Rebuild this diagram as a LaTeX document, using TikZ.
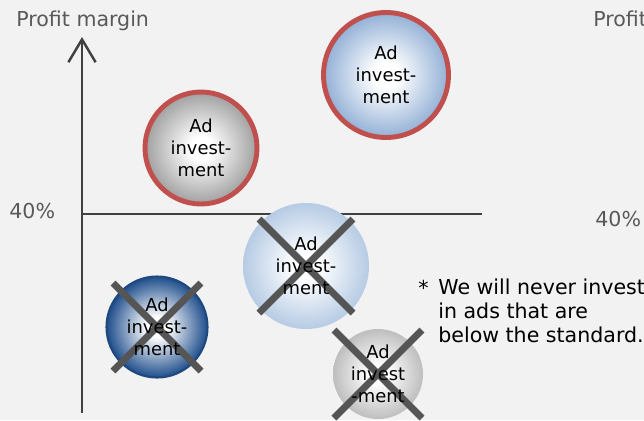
\documentclass[tikz,border=0pt]{standalone}
\usepackage{fontspec}
\setmainfont{DejaVu Sans}
\usetikzlibrary{arrows.meta}
\definecolor{bgpaper}{HTML}{F2F2F2}
\definecolor{axisgray}{HTML}{404040}
\definecolor{labelgray}{HTML}{595959}
\definecolor{ringred}{HTML}{C0504D}
\definecolor{ballgray}{HTML}{A0A0A0}
\definecolor{ballblue}{HTML}{92B0D6}
\definecolor{paleblue}{HTML}{B6CBE4}
\definecolor{navyblue}{HTML}{1F4E8C}
\definecolor{navyring}{HTML}{1F497D}
\definecolor{softgray}{HTML}{BEBEBE}
\definecolor{crossgray}{HTML}{555555}
% wider white centre for the radial fill
\makeatletter
\pgfdeclareradialshading[tikz@radial@inner,tikz@radial@outer]{radial}{\pgfpointorigin}{color(0bp)=(tikz@radial@inner); color(5bp)=(tikz@radial@inner); color(25bp)=(tikz@radial@outer); color(50bp)=(tikz@radial@outer)}
\makeatother
\tikzset{
	ball/.style={circle, inner sep=0pt, inner color=white},
	balltext/.style={align=center, inner sep=0pt, text=black, font=\fontsize{10.2}{12.5}\selectfont},
	axisline/.style={axisgray, line width=1.4pt},
	axistext/.style={labelgray, inner sep=0pt, font=\fontsize{11.7}{14}\selectfont},
	crossline/.style={crossgray, line width=3.9pt}
}

\begin{document}
\begin{tikzpicture}[x=0.02cm, y=-0.02cm]
			\useasboundingbox (0, 0) rectangle (644, 420);
			\clip (0, 0) rectangle (644, 420);
			\fill[bgpaper] (0, 0) rectangle (644, 420);
			% axes
			\coordinate (origin) at (82, 214);
			\coordinate (ytop) at (82, 37);
			\coordinate (ybot) at (82, 413);
			\coordinate (xend) at (482, 214);
			\draw[axisline, -{Straight Barb[length=13pt, width=15.5pt, line width=1.4pt]}] (ybot) -- (ytop);
			\draw[axisline] (origin) -- (xend);
			\node[axistext, anchor=base west] (ylabel) at (16, 26) {Profit margin};
			\node[axistext, anchor=base west] (limit) at (9, 218) {40\%};
			\node[axistext, anchor=base west] (ylabel2) at (593, 26) {Profit margin};
			\node[axistext, anchor=base west] (limit2) at (595, 226) {40\%};
			% circles
			\node[ball, draw=ringred, line width=2.8pt, outer color=ballgray, minimum size=2.24cm] (adgray) at (201, 148) {};
			\node[ball, draw=ringred, line width=2.8pt, outer color=ballblue, minimum size=2.5cm] (adblue) at (386, 75) {};
			\node[ball, outer color=paleblue, minimum size=2.52cm] (adpale) at (306, 266) {};
			\node[ball, draw=navyring, line width=1.2pt, outer color=navyblue, minimum size=2.02cm] (adnavy) at (157, 327) {};
			\node[ball, outer color=softgray, minimum size=1.8cm] (adlight) at (378, 374) {};
			% crosses
			\foreach \n/\d in {adpale/47, adnavy/44, adlight/44} {
				\draw[crossline] ([shift={(-\d, -\d)}]\n.center) -- ([shift={(\d, \d)}]\n.center);
				\draw[crossline] ([shift={(\d, -\d)}]\n.center) -- ([shift={(-\d, \d)}]\n.center);
			}
			% texts
			\foreach \n in {adgray, adblue, adpale, adnavy}
			\node[balltext] (\n-t) at (\n) {Ad\\invest-\\ment};
			\node[balltext] (adlight-t) at (adlight) {Ad\\invest\\-ment};
			\node[balltext, font=\fontsize{11.7}{13.6}\selectfont, anchor=base west] (star) at (418, 295) {*};
			\node[balltext, font=\fontsize{11.7}{13.6}\selectfont, align=left, anchor=north west] (note) at (438, 279) {We will never invest\\in ads that are\\below the standard.};
\end{tikzpicture}
\end{document}
